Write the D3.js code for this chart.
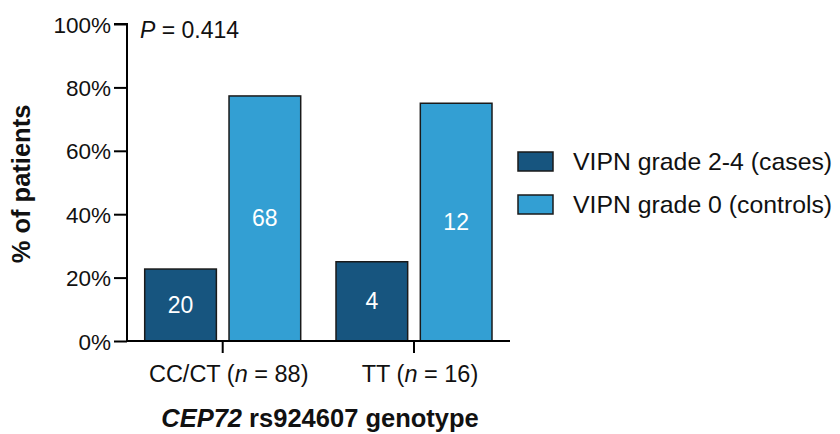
<!DOCTYPE html>
<html><head><meta charset="utf-8">
<script src="https://cdn.jsdelivr.net/npm/d3@7"></script>
<style>body{margin:0;background:#fff}svg{font-family:"Liberation Sans",Arial,sans-serif}</style>
</head><body><svg id="c" width="840" height="434"></svg>
<script>
const categories = ["CC/CT", "TT"];
const categoryN = [88, 16];
const seriesNames = ["VIPN grade 2-4 (cases)", "VIPN grade 0 (controls)"];
const casesPct = [22.7, 25.0];
const controlsPct = [77.3, 75.0];
const casesCount = [20, 4];
const controlsCount = [68, 12];
const yTicks = [0, 20, 40, 60, 80, 100];
const colors = ["#17557f", "#339fd3"];

const svg = d3.select("#c");
const x0 = 127, x1 = 510, yTop = 24, yBot = 341;
const centers = [222.7, 414];
const y = d3.scaleLinear().domain([0, 100]).range([yBot, yTop]);
const xs = d3.scaleBand().domain([0, 1]).range([0, 156]).paddingInner(0.15);

// bars
const series = [casesPct, controlsPct];
const counts = [casesCount, controlsCount];
categories.forEach((c, i) => {
  const gx = centers[i] - 78;
  [0, 1].forEach(s => {
    const bx = gx + xs(s), bw = xs.bandwidth();
    svg.append("rect").attr("x", bx).attr("y", y(series[s][i])).attr("width", bw)
      .attr("height", y(0) - y(series[s][i])).attr("fill", colors[s])
      .attr("stroke", "#1a1a1a").attr("stroke-width", 1.5);
    svg.append("text").attr("x", bx + bw / 2).attr("y", (y(series[s][i]) + y(0)) / 2 + 8)
      .attr("text-anchor", "middle").attr("fill", "#fff").attr("font-size", 23)
      .text(counts[s][i]);
  });
});

// y axis
const ya = svg.append("g").attr("transform", `translate(${x0},0)`)
  .call(d3.axisLeft(y).tickValues(yTicks).tickFormat(d => d + "%").tickSize(13).tickPadding(3));
ya.select(".domain").attr("stroke", "#000").attr("stroke-width", 2).attr("d", `M-13,${yTop}H0V${yBot}`);
ya.selectAll(".tick line").attr("stroke", "#000").attr("stroke-width", 2);
ya.selectAll(".tick text").attr("font-size", 22.5).attr("fill", "#111").attr("dy", "0.36em");

// x axis
svg.append("line").attr("x1", x0 - 1).attr("x2", x1).attr("y1", yBot).attr("y2", yBot)
  .attr("stroke", "#000").attr("stroke-width", 2);
categories.forEach((c, i) => {
  const center = centers[i];
  svg.append("line").attr("x1", center).attr("x2", center).attr("y1", yBot).attr("y2", yBot + 12)
    .attr("stroke", "#000").attr("stroke-width", 2);
  const t = svg.append("text").attr("x", center + 6).attr("y", 382).attr("text-anchor", "middle")
    .attr("font-size", 23.5).attr("fill", "#111");
  t.append("tspan").text(c + " (");
  t.append("tspan").attr("font-style", "italic").text("n");
  t.append("tspan").text(" = " + categoryN[i] + ")");
});

// axis titles
const xt = svg.append("text").attr("x", 320).attr("y", 427).attr("text-anchor", "middle")
  .attr("font-size", 25.5).attr("font-weight", "bold").attr("fill", "#111");
xt.append("tspan").attr("font-style", "italic").text("CEP72");
xt.append("tspan").text(" rs924607 genotype");
svg.append("text").attr("transform", "translate(30,184) rotate(-90)").attr("text-anchor", "middle")
  .attr("font-size", 25.5).attr("font-weight", "bold").attr("fill", "#111").text("% of patients");

// P value
const pt = svg.append("text").attr("x", 140).attr("y", 38).attr("font-size", 23).attr("fill", "#111");
pt.append("tspan").attr("font-style", "italic").text("P");
pt.append("tspan").text(" = 0.414");

// legend
seriesNames.forEach((n, i) => {
  const ly = 152 + i * 43;
  svg.append("rect").attr("x", 518).attr("y", ly).attr("width", 35).attr("height", 19)
    .attr("fill", colors[i]).attr("stroke", "#1a1a1a").attr("stroke-width", 1.5);
  svg.append("text").attr("x", 573).attr("y", ly + 17.5).attr("font-size", 24.8).attr("fill", "#111").text(n);
});
</script></body></html>
